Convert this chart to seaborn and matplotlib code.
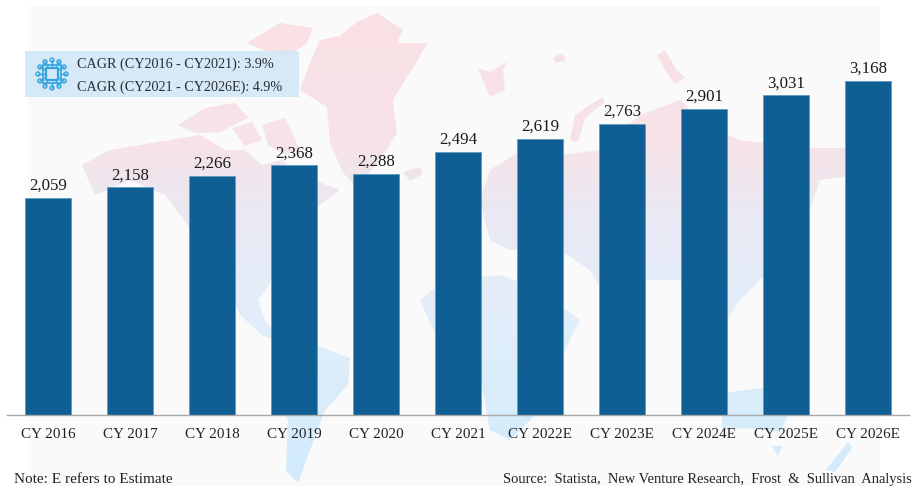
import matplotlib
matplotlib.use('Agg')
import matplotlib.pyplot as plt
import numpy as np
import seaborn as sns
from matplotlib.colors import LinearSegmentedColormap
from matplotlib.patches import Circle, PathPatch, Rectangle
from matplotlib.path import Path

YEARS = ['CY 2016', 'CY 2017', 'CY 2018', 'CY 2019', 'CY 2020', 'CY 2021',
         'CY 2022E', 'CY 2023E', 'CY 2024E', 'CY 2025E', 'CY 2026E']
VALUES = [2059, 2158, 2266, 2368, 2288, 2494, 2619, 2763, 2901, 3031, 3168]
CAGR_LINES = ['CAGR (CY2016 - CY2021): 3.9%', 'CAGR (CY2021 - CY2026E): 4.9%']
NOTE = 'Note: E refers to Estimate'
SOURCE = 'Source:  Statista,  New Venture Research,  Frost  &  Sullivan  Analysis'

# rough world map behind the bars, figure pixels
MAP_SHAPES = [
    [(300, 90), (310, 63), (320, 40), (340, 36), (357, 22), (377, 13), (403, 30), (397, 43), (427, 43),
     (415, 65), (408, 75), (393, 100), (397, 133), (380, 160), (357, 187), (343, 173), (330, 143),
     (327, 107)],
    [(247, 43), (280, 23), (313, 28), (307, 43), (287, 57), (263, 50)],
    [(82, 165), (110, 150), (170, 140), (200, 135), (225, 150), (245, 150), (262, 165), (282, 160),
     (300, 175), (340, 190), (320, 205), (300, 235), (280, 270), (258, 300), (265, 320), (285, 345),
     (262, 335), (240, 315), (225, 280), (195, 235), (165, 195), (130, 180), (95, 195)],
    [(178, 125), (205, 108), (235, 103), (248, 118), (220, 132), (195, 133)],
    [(232, 128), (252, 122), (262, 140), (245, 146)],
    [(262, 125), (285, 118), (300, 150), (285, 155), (268, 145)],
    [(280, 343), (315, 345), (350, 358), (348, 385), (325, 410), (312, 445), (298, 483), (286, 470),
     (288, 420), (272, 385)],
    [(420, 300), (445, 280), (500, 275), (540, 290), (580, 320), (560, 360), (540, 410), (510, 440),
     (490, 430), (475, 350), (440, 345)],
    [(490, 170), (530, 145), (560, 155), (600, 150), (640, 115), (680, 100), (705, 125), (740, 140),
     (800, 148), (850, 148), (885, 155), (860, 175), (820, 180), (810, 210), (790, 250), (760, 280),
     (740, 300), (720, 330), (700, 310), (680, 280), (640, 280), (620, 320), (590, 270), (560, 250),
     (510, 250), (490, 240), (480, 200)],
    [(570, 140), (575, 115), (602, 97), (605, 102), (585, 118), (578, 142)],
    [(723, 393), (770, 387), (790, 410), (780, 432), (745, 428), (722, 430)],
    [(403, 172), (420, 167), (423, 174), (410, 181)],
    [(478, 68), (490, 72), (507, 62), (503, 70), (505, 90), (490, 97)],
    [(553, 58), (562, 53), (566, 60), (556, 63)],
    [(657, 55), (665, 50), (675, 68), (685, 78), (675, 84), (665, 70)],
    [(772, 446), (782, 446), (778, 456)],
    [(826, 470), (848, 442), (852, 448), (835, 472)],
]

sns.set_theme(style='white')
plt.rcParams['font.family'] = ['Liberation Serif', 'DejaVu Serif']

fig = plt.figure(figsize=(9.13, 4.86), dpi=100, facecolor='white')

# background panel and map, in pixel coordinates
bg = fig.add_axes([0, 0, 1, 1])
bg.set_xlim(0, 913)
bg.set_ylim(486, 0)
bg.axis('off')
bg.add_patch(Rectangle((28, 6), 852, 480, color='#fafafa', lw=0))
verts, codes = [], []
for shape in MAP_SHAPES:
    verts += shape + [shape[0]]
    codes += [Path.MOVETO] + [Path.LINETO] * (len(shape) - 1) + [Path.CLOSEPOLY]
clip = PathPatch(Path(verts, codes), fc='none', ec='none', transform=bg.transData)
bg.add_patch(clip)
cmap = LinearSegmentedColormap.from_list(
    'map', [(0, '#f9e0e4'), (0.3, '#f6e3e8'), (0.45, '#e9e9f4'), (0.65, '#e2eefa'), (1, '#d0ebfc')])
grad = bg.imshow(np.linspace(0, 1, 256).reshape(-1, 1), cmap=cmap, aspect='auto',
                 extent=(0, 913, 486, 0), zorder=1)
grad.set_clip_path(clip)
bg.set_xlim(0, 913)
bg.set_ylim(486, 0)

# CAGR box
bg.add_patch(Rectangle((25, 51), 274, 46, color='#cfe6f6', alpha=0.85, lw=0, zorder=2))
chip = '#35a4de'
cx, cy = 52, 74
bg.add_patch(Rectangle((cx - 6, cy - 6), 12, 12, fc='none', ec=chip, lw=1.6, zorder=3))
bg.add_patch(Rectangle((cx - 9, cy - 9), 18, 18, fc='none', ec=chip, lw=1.2, zorder=3))
for a in np.arange(0, 2 * np.pi, np.pi / 6):
    x, y = cx + 14 * np.cos(a), cy + 14 * np.sin(a)
    bg.plot([cx + 8 * np.cos(a), x], [cy + 8 * np.sin(a), y], color=chip, lw=1, zorder=3)
    bg.add_patch(Circle((x, y), 2, fc='none', ec=chip, lw=1, zorder=3))
for y, line in zip([64, 87], CAGR_LINES):
    bg.text(77, y, line, fontsize=10.2, color='#2b2f36', va='center', ha='left', zorder=4)

# bars
ax = fig.add_axes([7 / 913, 1 - 415 / 486, 902 / 913, 415 / 486])
ax.patch.set_alpha(0)
sns.barplot(x=YEARS, y=VALUES, ax=ax, color='#0f5f94', saturation=1, width=0.573,
            edgecolor='#5f9cc4', linewidth=0.6)
ax.set_xlim(-0.5, 10.5)
ax.set_ylim(0, 3936)
ax.set_yticks([])
sns.despine(ax=ax, left=True)
ax.spines['bottom'].set_color('#a8a8a8')
ax.spines['bottom'].set_linewidth(1)
ax.tick_params(axis='x', length=0, pad=9, labelsize=10.9, labelcolor='#222222')
ax.bar_label(ax.containers[0], labels=[f'{v:,}' for v in VALUES], padding=3,
             fontsize=12.2, color='#1a1a1a')

fig.text(14 / 913, 1 - 479 / 486, NOTE, fontsize=11, color='#222222', va='center', ha='left')
fig.text(912 / 913, 1 - 479 / 486, SOURCE, fontsize=10.45, color='#222222', va='center', ha='right')

fig.savefig('out.png', dpi=100)
